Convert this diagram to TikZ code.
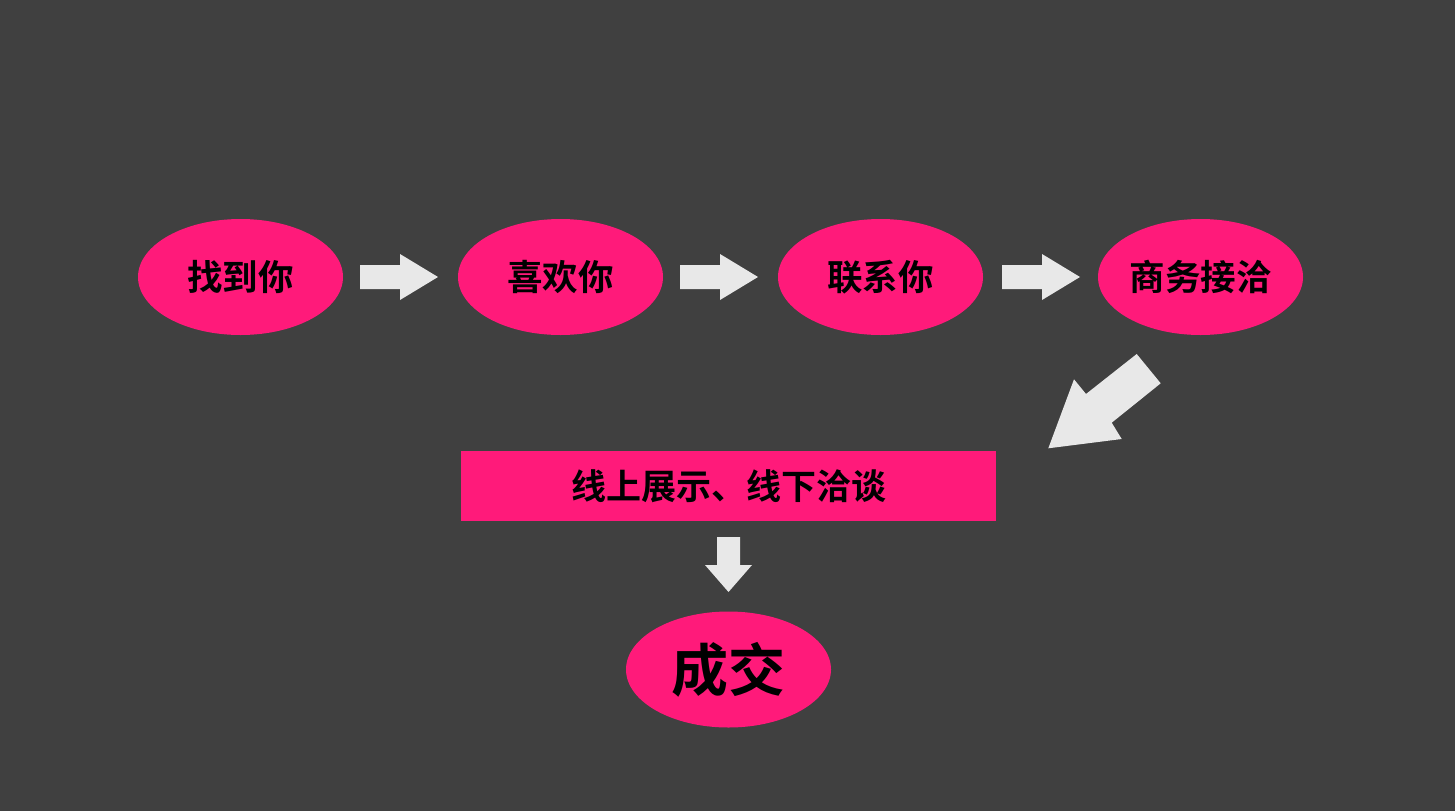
\documentclass[tikz,border=0pt]{standalone}
\usepackage{fontspec}
\newfontfamily\cjk{Noto Sans CJK SC}[BoldFont={Noto Sans CJK SC Bold}]
\usetikzlibrary{shapes.geometric}
\definecolor{bg}{HTML}{404040}
\definecolor{pinkc}{HTML}{FF1A7A}
\definecolor{arr}{HTML}{E8E8E8}
\tikzset{
  oval/.style={ellipse, fill=pinkc, draw=none, minimum width=205pt, minimum height=116pt, inner sep=0pt, font=\cjk\bfseries\fontsize{35.5}{40}\selectfont, text=black},
  barbox/.style={rectangle, fill=pinkc, draw=none, minimum width=535pt, minimum height=70pt, inner sep=0pt, font=\cjk\bfseries\fontsize{35}{40}\selectfont, text=black},
  fatarrow/.style={fill=arr, draw=none}
}
\begin{document}
\begin{tikzpicture}[x=1pt,y=-1pt]
\fill[bg] (0,0) rectangle (1455,811);
\useasboundingbox (0,0) rectangle (1455,811);
\node[oval] (n1) at (240.5,277) {找到你};
\node[oval] (n2) at (560.5,277) {喜欢你};
\node[oval] (n3) at (880.5,277) {联系你};
\node[oval] (n4) at (1200.5,277) {商务接洽};
\node[barbox] (bar) at (728.5,486) {线上展示、线下洽谈};
\node[oval, font=\cjk\bfseries\fontsize{57}{62}\selectfont] (deal) at (728.5,669.5) {成交};
\foreach \x in {360,680,1002}{
  \fill[fatarrow] (\x,265) -- (\x+40,265) -- (\x+40,254) -- (\x+78,277) -- (\x+40,300) -- (\x+40,289) -- (\x,289) -- cycle;
}
\fill[fatarrow] (1136.7,354) -- (1160.7,383.3) -- (1111.7,422.7) -- (1121.7,439) -- (1048.3,448.3) -- (1074,379.3) -- (1086,394) -- cycle;
\fill[fatarrow] (717,537) -- (740,537) -- (740,565) -- (752,565) -- (728.5,592) -- (705,565) -- (717,565) -- cycle;
\end{tikzpicture}
\end{document}
